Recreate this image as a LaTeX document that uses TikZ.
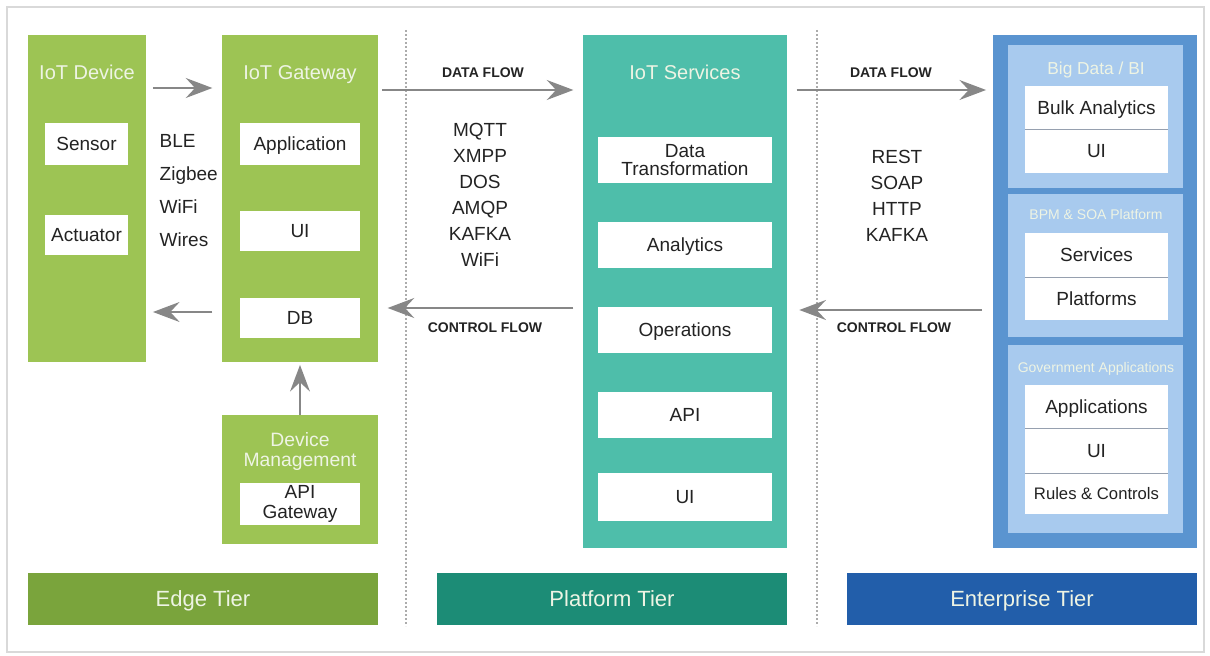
\documentclass[tikz,border=0pt]{standalone}
\usepackage{fontspec}
\setmainfont{Liberation Sans}
\usetikzlibrary{arrows.meta}

\definecolor{colgreen}{RGB}{157,196,84}
\definecolor{tiergreen}{RGB}{122,164,60}
\definecolor{colteal}{RGB}{78,190,170}
\definecolor{tierteal}{RGB}{28,140,118}
\definecolor{entouter}{RGB}{90,148,208}
\definecolor{entpanel}{RGB}{168,202,238}
\definecolor{tierblue}{RGB}{34,94,170}
\definecolor{arrowgray}{RGB}{135,135,135}
\definecolor{txtdark}{RGB}{35,35,35}
\definecolor{txtlight}{RGB}{238,244,228}
\definecolor{sepgray}{RGB}{150,160,175}

\begin{document}
\begin{tikzpicture}[x=0.75pt,y=-0.75pt,
  wh/.style 2 args={minimum width=#1*0.75pt, minimum height=#2*0.75pt},
  capht/.style={text height=#1, text depth=0pt},
  col/.style={fill=#1, draw=none, inner sep=0pt},
  wbox/.style={fill=white, inner sep=0pt, text=txtdark, align=center,
    font=\fontsize{14.25}{14}\selectfont},
  one/.style={capht=10.3pt},
  title/.style={text=txtlight, font=\fontsize{15}{15}\selectfont, align=center},
  ptitle/.style={text=txtlight, font=\fontsize{10.5}{11}\selectfont, capht=7.6pt},
  tier/.style={col=#1, text=txtlight, font=\fontsize{16.5}{16}\selectfont, capht=11.9pt},
  proto/.style={text=txtdark, font=\fontsize{14.25}{19.5}\selectfont, align=center},
  flowlbl/.style={text=txtdark, font=\bfseries\fontsize{10.5}{11}\selectfont},
  flow/.style={draw=arrowgray, line width=1.5pt,
    -{Stealth[length=20pt,width=15pt,inset=7pt]}},
  sep/.style={draw=sepgray, line width=0.7pt},
  divider/.style={draw=gray!65, line width=1pt, dash pattern=on 1.2pt off 1.8pt},
  frame/.style={draw=gray!30, line width=1pt}]
\useasboundingbox (0,0) rectangle (1210,656);

%Shape: Rectangle [frame]
\draw [frame] (7,7) rectangle (1204,652);
%Dotted Lines [tier dividers]
\draw [divider] (406,30) -- (406,626);
\draw [divider] (817,30) -- (817,626);

%Edge tier
\node [col=colgreen, wh={118}{327}] (dev) at (87,198.5) {};
\node [col=colgreen, wh={156}{327}] (gw) at (300,198.5) {};
\node [col=colgreen, wh={156}{129}] (dm) at (300,479.5) {};
\node [title, capht=10.8pt] (devT) at (87,72) {IoT Device};
\node [title, capht=10.8pt] (gwT) at (300,72) {IoT Gateway};
\node [title, font=\fontsize{14.5}{15}\selectfont] (dmT) at (300,451) {Device\\Management};
\node [wbox, one, wh={83}{42}] (sensor) at (86.5,144) {Sensor};
\node [wbox, one, wh={83}{40}] (actuator) at (86.5,235) {Actuator};
\node [wbox, one, wh={120}{42}] (app) at (300,144) {Application};
\node [wbox, one, wh={120}{40}] (gwui) at (300,231) {UI};
\node [wbox, one, wh={120}{40}] (db) at (300,318) {DB};
\node [wbox, wh={120}{42}, font=\fontsize{14.25}{15}\selectfont] (apigw) at (300,504) {API\\Gateway};
\node [proto, align=left, anchor=west, font=\fontsize{14.25}{24.75}\selectfont] (radio) at (155,191) {BLE\\Zigbee\\WiFi\\Wires};

%Platform tier
\node [col=colteal, wh={204}{513}] (svc) at (685,291.5) {};
\node [title, capht=10.8pt] (svcT) at (685,72) {IoT Services};
\node [wbox, wh={174}{46}, font=\fontsize{14.25}{13.5}\selectfont] (dt) at (685,160) {Data\\Transformation};
\node [wbox, one, wh={174}{46}] (ana) at (685,245) {Analytics};
\node [wbox, one, wh={174}{46}] (ops) at (685,330) {Operations};
\node [wbox, one, wh={174}{46}] (api) at (685,415) {API};
\node [wbox, one, wh={174}{48}] (sui) at (685,497) {UI};
\node [proto] (mq) at (480,195) {MQTT\\XMPP\\DOS\\AMQP\\KAFKA\\WiFi};

%Enterprise tier
\node [col=entouter, wh={204}{513}] (ent) at (1095,291.5) {};
\node [col=entpanel, wh={175}{143}] (bd) at (1095.5,116.5) {};
\node [col=entpanel, wh={175}{143}] (bpm) at (1095.5,265.5) {};
\node [col=entpanel, wh={175}{188}] (gov) at (1095.5,439) {};
\node [ptitle, font=\fontsize{13}{13}\selectfont, capht=9.4pt] (bdT) at (1096,68) {Big Data / BI};
\node [ptitle] (bpmT) at (1096,214) {BPM \& SOA Platform};
\node [ptitle] (govT) at (1096,367) {Government Applications};
\node [wbox, one, wh={143}{43}] (bulk) at (1096.5,107.5) {Bulk Analytics};
\node [wbox, one, wh={143}{44}] (bdui) at (1096.5,151) {UI};
\node [wbox, one, wh={143}{44}] (serv) at (1096.5,255) {Services};
\node [wbox, one, wh={143}{43}] (plats) at (1096.5,298.5) {Platforms};
\node [wbox, one, wh={143}{43}] (apps) at (1096.5,406.5) {Applications};
\node [wbox, one, wh={143}{45}] (gui) at (1096.5,450.5) {UI};
\node [wbox, capht=9pt, wh={143}{41}, font=\fontsize{12.5}{13}\selectfont] (rules) at (1096.5,493.5) {Rules \& Controls};
\draw [sep] (bulk.south west) -- (bulk.south east);
\draw [sep] (serv.south west) -- (serv.south east);
\draw [sep] (apps.south west) -- (apps.south east);
\draw [sep] (gui.south west) -- (gui.south east);
\node [proto] (rest) at (897,196) {REST\\SOAP\\HTTP\\KAFKA};

%Tier bars
\node [tier=tiergreen, wh={350}{52}] (edgeTier) at (203,599) {Edge Tier};
\node [tier=tierteal, wh={350}{52}] (platTier) at (612,599) {Platform Tier};
\node [tier=tierblue, wh={350}{52}] (entTier) at (1022,599) {Enterprise Tier};

%Flow labels
\node [flowlbl] (df1) at (483,73) {DATA FLOW};
\node [flowlbl] (cf1) at (485,328) {CONTROL FLOW};
\node [flowlbl] (df2) at (891,73) {DATA FLOW};
\node [flowlbl] (cf2) at (894,328) {CONTROL FLOW};

%Arrows
\draw [flow] ([xshift=5pt]dev.east |- 0,88) -- ([xshift=-7pt]gw.west |- 0,88);
\draw [flow] ([xshift=-7pt]gw.west |- 0,312) -- ([xshift=5pt]dev.east |- 0,312);
\draw [flow] (dm.north) -- ([yshift=-2pt]gw.south);
\draw [flow] ([xshift=3pt]gw.east |- 0,90) -- ([xshift=-7pt]svc.west |- 0,90);
\draw [flow] ([xshift=-7pt]svc.west |- 0,308) -- ([xshift=7pt]gw.east |- 0,308);
\draw [flow] ([xshift=7pt]svc.east |- 0,90) -- ([xshift=-5pt]ent.west |- 0,90);
\draw [flow] ([xshift=-8pt]ent.west |- 0,310) -- ([xshift=9pt]svc.east |- 0,310);

\end{tikzpicture}
\end{document}
